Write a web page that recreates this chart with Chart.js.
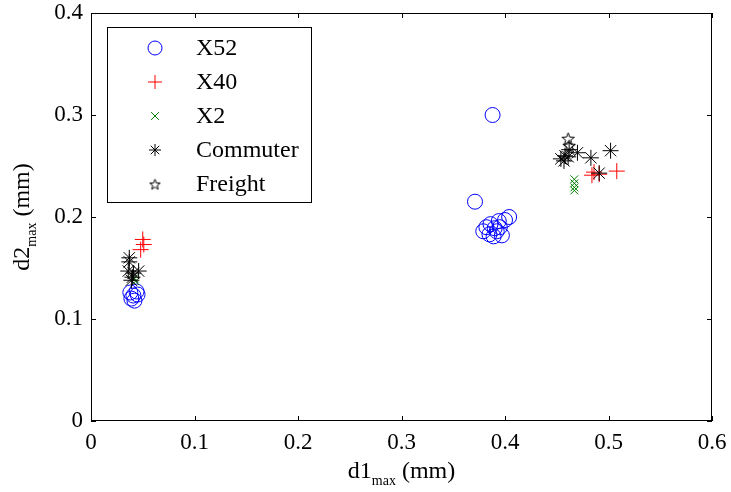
<!DOCTYPE html>
<html>
<head>
<meta charset="utf-8">
<script src="https://cdn.jsdelivr.net/npm/chart.js@4/dist/chart.umd.min.js"></script>
<style>
  html, body { margin: 0; padding: 0; background: #fff; }
  #wrap { width: 731px; height: 492px; }
</style>
</head>
<body>
<div id="wrap"><canvas id="c" width="731" height="492"></canvas></div>
<script>
// Maximum displacements d1 / d2 (mm) per train type
const seriesNames = ['X52', 'X40', 'X2', 'Commuter', 'Freight'];

const x52D1 = [0.038, 0.039, 0.041, 0.044, 0.042, 0.045,
               0.388, 0.371, 0.382, 0.379, 0.385, 0.389, 0.392, 0.395, 0.394, 0.397, 0.400, 0.404, 0.390, 0.386];
const x52D2 = [0.126, 0.120, 0.123, 0.127, 0.118, 0.124,
               0.300, 0.215, 0.190, 0.186, 0.183, 0.181, 0.186, 0.190, 0.196, 0.182, 0.197, 0.200, 0.189, 0.193];

const x40D1 = [0.050, 0.051, 0.048, 0.484, 0.486, 0.491, 0.508];
const x40D2 = [0.178, 0.173, 0.168, 0.241, 0.244, 0.242, 0.245];

const x2D1 = [0.042, 0.043, 0.467, 0.467, 0.467, 0.467];
const x2D2 = [0.140, 0.137, 0.237, 0.233, 0.229, 0.226];

const commuterD1 = [0.037, 0.037, 0.036, 0.041, 0.046, 0.039, 0.040,
                    0.454, 0.457, 0.461, 0.462, 0.470, 0.483, 0.502, 0.491, 0.458];
const commuterD2 = [0.160, 0.156, 0.147, 0.145, 0.147, 0.138, 0.141,
                    0.257, 0.255, 0.259, 0.266, 0.263, 0.258, 0.265, 0.243, 0.260];

const freightD1 = [0.461, 0.462];
const freightD2 = [0.277, 0.270];

const xTickValues = [0, 0.1, 0.2, 0.3, 0.4, 0.5, 0.6];
const xTickLabels = ['0', '0.1', '0.2', '0.3', '0.4', '0.5', '0.6'];
const yTickValues = [0, 0.1, 0.2, 0.3, 0.4];
const yTickLabels = ['0', '0.1', '0.2', '0.3', '0.4'];

const SERIF = "'Liberation Serif', 'Times New Roman', serif";

// five-pointed star outline used as the Freight marker
function pentagram(size, color) {
  const c = document.createElement('canvas');
  c.width = size; c.height = size;
  const g = c.getContext('2d');
  const cx = size / 2, cy = size / 2 + 0.8;
  const R = size / 2 - 1, r = R * 0.42;
  g.beginPath();
  for (let i = 0; i < 10; i++) {
    const a = -Math.PI / 2 + i * Math.PI / 5;
    const rr = i % 2 ? r : R;
    g.lineTo(cx + rr * Math.cos(a), cy + rr * Math.sin(a));
  }
  g.closePath();
  g.strokeStyle = color;
  g.lineWidth = 1;
  g.stroke();
  return c;
}
const starPlot = pentagram(15, '#000');
const starLegend = pentagram(13, '#000');

function pts(xs, ys) { return xs.map((x, i) => ({ x: x, y: ys[i] })); }

const styles = [
  { color: '#0000ff', style: 'circle',   radius: 7.5, legendRadius: 7 },
  { color: '#ff0000', style: 'cross',    radius: 8,   legendRadius: 7 },
  { color: '#008000', style: 'crossRot', radius: 5.5, legendRadius: 5.5 },
  { color: '#000000', style: 'star',     radius: 8,   legendRadius: 6 },
  { color: '#000000', style: starPlot,   radius: 7,   legendRadius: 6, legendStyle: starLegend }
];
const seriesData = [
  pts(x52D1, x52D2), pts(x40D1, x40D2), pts(x2D1, x2D2),
  pts(commuterD1, commuterD2), pts(freightD1, freightD2)
];

const datasets = seriesNames.map((name, i) => ({
  label: name,
  data: seriesData[i],
  pointStyle: styles[i].style,
  pointRadius: styles[i].radius,
  pointHoverRadius: styles[i].radius,
  borderColor: styles[i].color,
  backgroundColor: 'rgba(0,0,0,0)',
  pointBorderWidth: 1,
  borderWidth: 1,
  showLine: false,
  order: seriesNames.length - i
}));

// axes box with inward ticks on all four sides
const framePlugin = {
  id: 'frame',
  beforeDatasetsDraw(chart) {
    const { ctx, chartArea: a, scales } = chart;
    ctx.save();
    ctx.strokeStyle = '#000';
    ctx.lineWidth = 1;
    ctx.strokeRect(a.left + 0.5, a.top + 0.5, a.right - a.left - 1, a.bottom - a.top - 1);
    const L = 5;
    ctx.beginPath();
    xTickValues.forEach(v => {
      const px = Math.round(scales.x.getPixelForValue(v)) + 0.5;
      ctx.moveTo(px, a.bottom); ctx.lineTo(px, a.bottom - L);
      ctx.moveTo(px, a.top); ctx.lineTo(px, a.top + L);
    });
    yTickValues.forEach(v => {
      const py = Math.round(scales.y.getPixelForValue(v)) + 0.5;
      ctx.moveTo(a.left, py); ctx.lineTo(a.left + L, py);
      ctx.moveTo(a.right, py); ctx.lineTo(a.right - L, py);
    });
    ctx.stroke();
    ctx.restore();
  }
};

// axis titles with subscripts
function drawSubTitle(ctx, main, sub, rest, cx, baseY) {
  const big = '24px ' + SERIF, small = '14px ' + SERIF;
  ctx.font = big; const w1 = ctx.measureText(main).width;
  ctx.font = small; const w2 = ctx.measureText(sub).width;
  ctx.font = big; const w3 = ctx.measureText(rest).width;
  let x = cx - (w1 + w2 + w3) / 2;
  ctx.textBaseline = 'alphabetic';
  ctx.textAlign = 'left';
  ctx.font = big; ctx.fillText(main, x, baseY); x += w1;
  ctx.font = small; ctx.fillText(sub, x, baseY + 7); x += w2;
  ctx.font = big; ctx.fillText(rest, x, baseY);
}
const titlePlugin = {
  id: 'axisTitles',
  afterDraw(chart) {
    const { ctx, chartArea: a } = chart;
    ctx.save();
    ctx.fillStyle = '#000';
    drawSubTitle(ctx, 'd1', 'max', ' (mm)', (a.left + a.right) / 2, 478);
    ctx.translate(29, (a.top + a.bottom) / 2);
    ctx.rotate(-Math.PI / 2);
    drawSubTitle(ctx, 'd2', 'max', ' (mm)', 0, 0);
    ctx.restore();
  }
};

// boxed legend in the upper left of the plot
const legendPlugin = {
  id: 'boxLegend',
  afterDatasetsDraw(chart) {
    const ctx = chart.ctx;
    const box = { x: 107, y: 27, w: 204, h: 175 };
    ctx.save();
    ctx.fillStyle = '#fff';
    ctx.fillRect(box.x, box.y, box.w, box.h);
    ctx.strokeStyle = '#000';
    ctx.lineWidth = 1;
    ctx.strokeRect(box.x + 0.5, box.y + 0.5, box.w, box.h);
    const rowY = [48, 82, 116, 150, 184];
    seriesNames.forEach((name, i) => {
      const s = styles[i];
      ctx.strokeStyle = s.color;
      ctx.fillStyle = 'rgba(0,0,0,0)';
      ctx.lineWidth = 1;
      Chart.helpers.drawPoint(ctx, {
        pointStyle: s.legendStyle || s.style,
        radius: s.legendRadius,
        rotation: 0,
        borderWidth: 1
      }, 155, rowY[i]);
      ctx.fillStyle = '#000';
      ctx.font = '24px ' + SERIF;
      ctx.textAlign = 'left';
      ctx.textBaseline = 'middle';
      ctx.fillText(name, 196, rowY[i] + 1);
    });
    ctx.restore();
  }
};

new Chart(document.getElementById('c'), {
  type: 'scatter',
  data: { datasets: datasets },
  options: {
    responsive: false,
    devicePixelRatio: 1,
    animation: false,
    layout: { padding: { top: 13, right: 19, left: 0, bottom: 0 } },
    plugins: { legend: { display: false }, tooltip: { enabled: false } },
    scales: {
      x: {
        type: 'linear', min: 0, max: 0.6,
        afterBuildTicks: s => { s.ticks = xTickValues.map(v => ({ value: v })); },
        afterFit: s => { s.height = 71; s.paddingLeft = 0; s.paddingRight = 0; },
        grid: { display: false, drawTicks: false, tickLength: 0 },
        border: { display: false },
        ticks: {
          color: '#000', padding: 8, maxRotation: 0,
          font: { family: SERIF, size: 23 },
          callback: (v, i) => xTickLabels[i]
        }
      },
      y: {
        type: 'linear', min: 0, max: 0.4,
        afterBuildTicks: s => { s.ticks = yTickValues.map(v => ({ value: v })); },
        afterFit: s => { s.width = 91; s.paddingTop = 0; s.paddingBottom = 0; },
        grid: { display: false, drawTicks: false, tickLength: 0 },
        border: { display: false },
        ticks: {
          color: '#000', padding: 8,
          font: { family: SERIF, size: 23 },
          callback: (v, i) => yTickLabels[i]
        }
      }
    }
  },
  plugins: [framePlugin, legendPlugin, titlePlugin]
});
</script>
</body>
</html>
